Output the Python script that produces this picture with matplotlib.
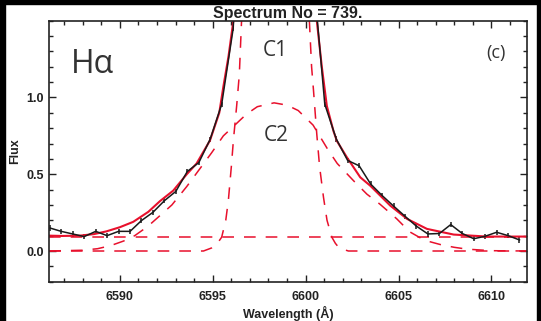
import matplotlib
matplotlib.use("Agg")
import matplotlib.pyplot as plt
from matplotlib.patches import Rectangle
from matplotlib.ticker import MultipleLocator

plt.rcParams['lines.scale_dashes'] = False

# observed spectrum (flux points, the ones in the core are off the top)
wave = [6586.23, 6586.84, 6587.46, 6588.08, 6588.70, 6589.31, 6589.93, 6590.55,
        6591.16, 6591.78, 6592.40, 6593.01, 6593.63, 6594.25, 6594.86, 6595.48,
        6596.10, 6596.71, 6597.33, 6597.95, 6598.56, 6599.18, 6599.80, 6600.41,
        6601.03, 6601.65, 6602.26, 6602.88, 6603.50, 6604.11, 6604.73, 6605.35,
        6605.96, 6606.58, 6607.20, 6607.81, 6608.43, 6609.05, 6609.66, 6610.28,
        6610.90, 6611.51]
flux = [0.150, 0.128, 0.111, 0.094, 0.128, 0.100, 0.128, 0.128,
        0.198, 0.252, 0.328, 0.388, 0.518, 0.576, 0.728, 0.956,
        1.45, 3.0, 6.5, 10.5, 12.0, 9.0, 4.5, 1.8,
        0.956, 0.729, 0.590, 0.555, 0.436, 0.362, 0.293, 0.226,
        0.162, 0.111, 0.114, 0.172, 0.114, 0.080, 0.096, 0.122,
        0.100, 0.072]
flux_err = 0.017

# total fit
fit_wave = [6586.2, 6586.9, 6587.84, 6588.6, 6589.28, 6590.0, 6590.72, 6591.53,
            6592.16, 6592.87, 6593.6, 6594.13, 6594.85, 6595.35, 6595.57, 6595.85,
            6596.11, 6596.3, 6598.36, 6600.45, 6600.60, 6600.87, 6601.14, 6601.50,
            6601.68, 6602.22, 6602.94, 6603.48, 6604.56, 6605.46, 6606.53, 6607.97,
            6609.77, 6611.9]
fit_flux = [0.100, 0.098, 0.100, 0.110, 0.128, 0.155, 0.190, 0.255,
            0.325, 0.393, 0.500, 0.570, 0.720, 0.900, 1.07, 1.27,
            1.50, 1.75, 12.5, 1.75, 1.50, 1.20, 0.945, 0.780,
            0.717, 0.610, 0.480, 0.425, 0.295, 0.209, 0.144, 0.107,
            0.094, 0.094]

# continuum
cont_wave = [6586.2, 6611.9]
cont_flux = [0.094, 0.094]

# narrow component C1
c1_wave = [6586.2, 6594.5, 6594.94, 6595.25, 6595.48, 6595.7, 6595.84, 6596.0,
           6596.11, 6596.29, 6596.43, 6596.55, 6596.65, 6598.36, 6600.10, 6600.20,
           6600.32, 6600.42, 6600.60, 6600.75, 6600.96, 6601.15, 6601.41, 6601.6,
           6601.8, 6602.3, 6611.9]
c1_flux = [0.0, 0.0, 0.02, 0.05, 0.09, 0.20, 0.33, 0.55,
           0.72, 0.95, 1.15, 1.50, 1.70, 12.0, 1.70, 1.50,
           1.20, 1.05, 0.76, 0.55, 0.35, 0.20, 0.09, 0.05,
           0.02, 0.0, 0.0]

# broad component C2
c2_wave = [6586.2, 6588.0, 6588.8, 6589.5, 6590.2, 6590.8, 6591.5, 6592.2,
           6592.8, 6593.6, 6594.3, 6594.94, 6595.57, 6596.1, 6596.8, 6597.4,
           6598.3, 6599.0, 6599.6, 6600.4, 6600.8, 6601.2, 6601.7, 6602.6,
           6603.3, 6604.0, 6604.9, 6605.6, 6606.4, 6607.25, 6608.0, 6608.7,
           6610.0, 6611.9]
c2_flux = [0.0, 0.005, 0.015, 0.035, 0.065, 0.10, 0.16, 0.235,
           0.30, 0.42, 0.535, 0.64, 0.75, 0.81, 0.89, 0.94,
           0.965, 0.95, 0.915, 0.82, 0.74, 0.66, 0.57, 0.455,
           0.37, 0.305, 0.21, 0.125, 0.07, 0.042, 0.024, 0.012,
           0.002, 0.0]

red = '#e8102c'
dash = (0, (8.4, 7.2))
ink = '#333333'

fig = plt.figure(figsize=(5.41, 3.21), dpi=100)
ax = fig.add_axes([0.0911, 0.1224, 0.8825, 0.8131])

ax.plot(cont_wave, cont_flux, color=red, lw=1.1, ls=dash)
ax.plot(c1_wave, c1_flux, color=red, lw=1.1, ls=dash)
ax.plot(c2_wave, c2_flux, color=red, lw=1.1, ls=dash)
ax.errorbar(wave, flux, yerr=flux_err, color='#1a1a1a', lw=1.1, elinewidth=1.1, capsize=0)
ax.plot(fit_wave, fit_flux, color=red, lw=1.5)

ax.set_xlim(6586.2, 6611.9)
ax.set_ylim(-0.2, 1.5)
ax.xaxis.set_major_locator(MultipleLocator(5))
ax.xaxis.set_minor_locator(MultipleLocator(1))
ax.set_yticks([0.0, 0.5, 1.0])
ax.yaxis.set_minor_locator(MultipleLocator(0.1))
ax.tick_params(which='both', direction='in', top=True, right=True, width=1.0, color='#222222')
ax.tick_params(which='major', length=5)
ax.tick_params(which='minor', length=3)
ax.tick_params(axis='x', pad=7)
ax.tick_params(axis='y', pad=4)
for s in ax.spines.values():
    s.set_linewidth(1.2)
    s.set_color('#222222')

for lab in ax.get_xticklabels() + ax.get_yticklabels():
    lab.set_fontfamily('Liberation Sans')
    lab.set_fontweight('bold')
    lab.set_fontsize(9)
    lab.set_color('#222222')

ax.set_xlabel('Wavelength (Å)', family='Liberation Sans', weight='bold', fontsize=9,
              color='#222222', labelpad=2)
ax.set_ylabel('Flux', family='Liberation Sans', weight='bold', fontsize=9,
              color='#222222', labelpad=4)
ax.set_title('Spectrum No = 739.', family='Liberation Sans', weight='bold', fontsize=11.5,
             color='#222222', pad=2)

ax.text(0.045, 0.80, 'Hα', transform=ax.transAxes, family='Open Sans', fontsize=23, color=ink)
ax.text(0.473, 0.885, 'C1', transform=ax.transAxes, family='Open Sans', fontsize=15,
        color=ink, ha='center', va='center')
ax.text(0.475, 0.56, 'C2', transform=ax.transAxes, family='Open Sans', fontsize=15,
        color=ink, ha='center', va='center')
ax.text(0.935, 0.875, '(c)', transform=ax.transAxes, family='Open Sans', fontsize=13,
        color=ink, ha='center', va='center')

# black frame strips round the picture
W, H = 541.0, 321.0
fig.add_artist(Rectangle((0, 1 - 4 / H), 1, 4 / H, transform=fig.transFigure, color='black', zorder=10))
fig.add_artist(Rectangle((0, 0), 5 / W, 1, transform=fig.transFigure, color='black', zorder=10))
fig.add_artist(Rectangle((1 - 4 / W, 0), 4 / W, 1, transform=fig.transFigure, color='black', zorder=10))

fig.savefig('out.png', dpi=100)
